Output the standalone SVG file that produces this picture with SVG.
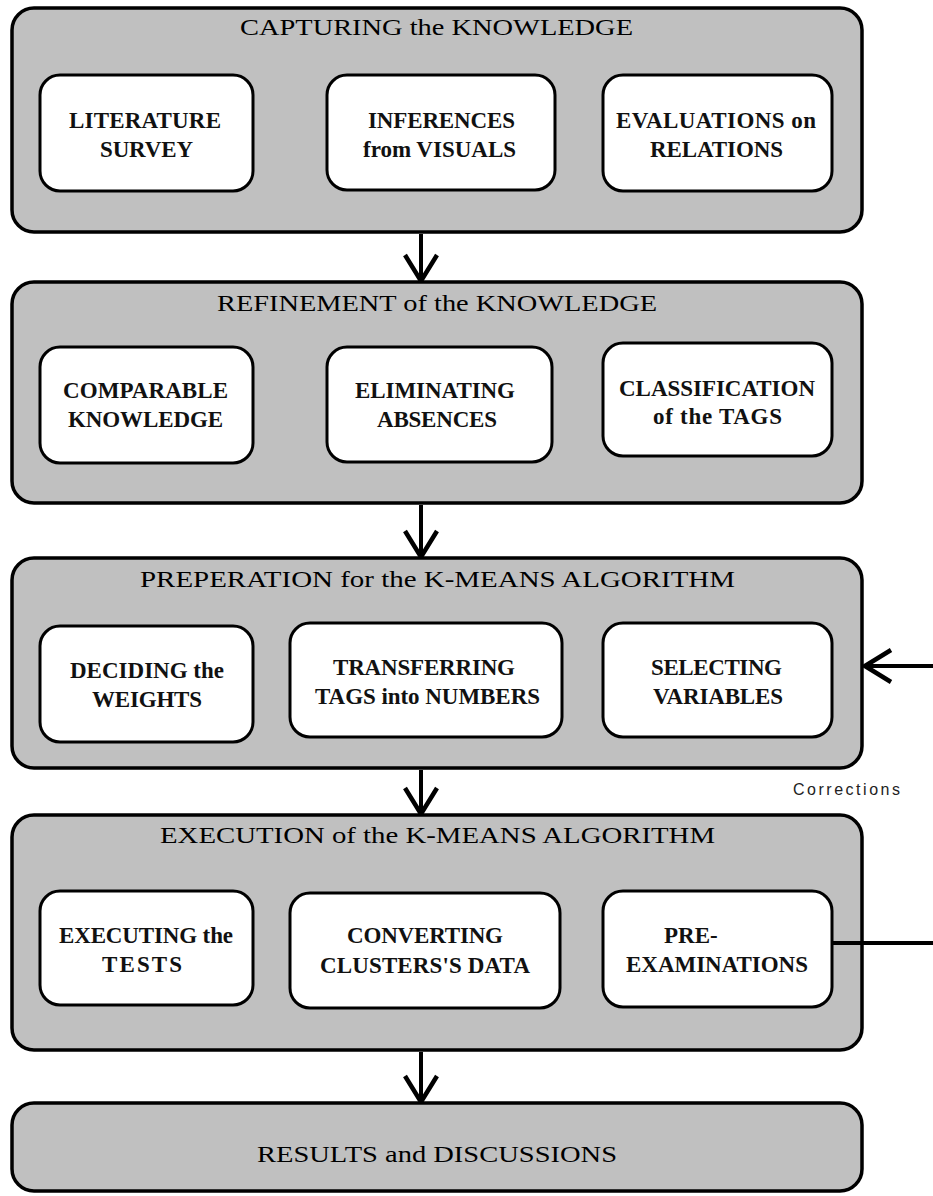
<svg xmlns="http://www.w3.org/2000/svg" width="933" height="1196" viewBox="0 0 933 1196">
<style>
.panel{fill:#c0c0c0;stroke:#000;stroke-width:3.5}
.box{fill:#fff;stroke:#000;stroke-width:3}
.title{font-family:"Liberation Serif",serif;font-size:23px;fill:#000;text-anchor:middle}
.lbl{font-family:"Liberation Serif",serif;font-size:23px;font-weight:bold;fill:#111;text-anchor:middle}
.conn{stroke:#000;stroke-width:4;fill:none}
.note{font-family:"Liberation Sans",sans-serif;font-size:16px;fill:#222}
</style>
<defs>
<marker id="ah" viewBox="0 0 30 36" refX="28" refY="18" markerWidth="30" markerHeight="36" markerUnits="userSpaceOnUse" orient="auto">
<path d="M2,2 L28,18 L2,34" fill="none" stroke="#000" stroke-width="4.5"/>
</marker>
</defs>
<rect width="933" height="1196" fill="#fff"/>

<g id="panel-capturing">
<rect class="panel" x="12" y="8" width="850" height="224" rx="22"/>
<text class="title" x="436.5" y="35" textLength="393" lengthAdjust="spacingAndGlyphs">CAPTURING the KNOWLEDGE</text>
</g>
<g id="literature-survey">
<rect class="box" x="40" y="75" width="213" height="116" rx="20"/>
<text class="lbl" x="145" y="128" textLength="152" lengthAdjust="spacing">LITERATURE</text>
<text class="lbl" x="146.5" y="157" textLength="93" lengthAdjust="spacing">SURVEY</text>
</g>
<g id="inferences">
<rect class="box" x="327" y="75" width="228" height="115" rx="20"/>
<text class="lbl" x="441.5" y="128" textLength="147" lengthAdjust="spacing">INFERENCES</text>
<text class="lbl" x="439.5" y="157" textLength="153" lengthAdjust="spacing">from VISUALS</text>
</g>
<g id="evaluations">
<rect class="box" x="603" y="75" width="229" height="116" rx="20"/>
<text class="lbl" x="716" y="128" textLength="200" lengthAdjust="spacing">EVALUATIONS on</text>
<text class="lbl" x="716.5" y="157" textLength="133" lengthAdjust="spacing">RELATIONS</text>
</g>

<g id="panel-refinement">
<rect class="panel" x="12" y="282" width="850" height="221" rx="22"/>
<text class="title" x="437" y="311" textLength="440" lengthAdjust="spacingAndGlyphs">REFINEMENT of the KNOWLEDGE</text>
</g>
<g id="comparable">
<rect class="box" x="40" y="347" width="213" height="116" rx="20"/>
<text class="lbl" x="145.5" y="398" textLength="165" lengthAdjust="spacing">COMPARABLE</text>
<text class="lbl" x="145.5" y="427" textLength="155" lengthAdjust="spacing">KNOWLEDGE</text>
</g>
<g id="eliminating">
<rect class="box" x="327" y="347" width="225" height="115" rx="20"/>
<text class="lbl" x="435" y="398" textLength="160" lengthAdjust="spacing">ELIMINATING</text>
<text class="lbl" x="437" y="427" textLength="120" lengthAdjust="spacing">ABSENCES</text>
</g>
<g id="classification">
<rect class="box" x="603" y="343" width="229" height="113" rx="20"/>
<text class="lbl" x="717" y="396" textLength="196" lengthAdjust="spacing">CLASSIFICATION</text>
<text class="lbl" x="717.5" y="424" textLength="129" lengthAdjust="spacing">of  the TAGS</text>
</g>

<g id="panel-preperation">
<rect class="panel" x="12" y="558" width="850" height="210" rx="22"/>
<text class="title" x="437.5" y="587" textLength="595" lengthAdjust="spacingAndGlyphs">PREPERATION for the K-MEANS ALGORITHM</text>
</g>
<g id="deciding">
<rect class="box" x="40" y="626" width="213" height="116" rx="20"/>
<text class="lbl" x="147" y="678" textLength="154" lengthAdjust="spacing">DECIDING the</text>
<text class="lbl" x="147" y="707" textLength="110" lengthAdjust="spacing">WEIGHTS</text>
</g>
<g id="transferring">
<rect class="box" x="290" y="623" width="272" height="114" rx="20"/>
<text class="lbl" x="424" y="675" textLength="182" lengthAdjust="spacing">TRANSFERRING</text>
<text class="lbl" x="427.5" y="704" textLength="225" lengthAdjust="spacing">TAGS into NUMBERS</text>
</g>
<g id="selecting">
<rect class="box" x="603" y="623" width="229" height="114" rx="20"/>
<text class="lbl" x="716.5" y="675" textLength="131" lengthAdjust="spacing">SELECTING</text>
<text class="lbl" x="718" y="704" textLength="130" lengthAdjust="spacing">VARIABLES</text>
</g>

<g id="panel-execution">
<rect class="panel" x="12" y="815" width="850" height="235" rx="22"/>
<text class="title" x="437.5" y="843" textLength="555" lengthAdjust="spacingAndGlyphs">EXECUTION of  the K-MEANS ALGORITHM</text>
</g>
<g id="executing">
<rect class="box" x="40" y="891" width="213" height="114" rx="20"/>
<text class="lbl" x="146" y="943" textLength="174" lengthAdjust="spacing">EXECUTING the</text>
<text class="lbl" x="142" y="972" textLength="80" lengthAdjust="spacing">TESTS</text>
</g>
<g id="converting">
<rect class="box" x="290" y="893" width="270" height="115" rx="20"/>
<text class="lbl" x="425" y="943" textLength="156" lengthAdjust="spacing">CONVERTING</text>
<text class="lbl" x="425" y="973" textLength="210" lengthAdjust="spacing">CLUSTERS'S DATA</text>
</g>
<g id="pre-examinations">
<rect class="box" x="603" y="891" width="229" height="116" rx="20"/>
<text class="lbl" x="664" y="943" style="text-anchor:start">PRE-</text>
<text class="lbl" x="717" y="972" textLength="182" lengthAdjust="spacing">EXAMINATIONS</text>
</g>

<g id="results">
<rect class="panel" x="12" y="1103" width="850" height="88" rx="22"/>
<text class="title" x="437" y="1162" font-size="24" textLength="360" lengthAdjust="spacingAndGlyphs">RESULTS and DISCUSSIONS</text>
</g>

<g id="connectors">
<line class="conn" x1="421" y1="234" x2="421" y2="281" marker-end="url(#ah)"/>
<line class="conn" x1="421" y1="505" x2="421" y2="557" marker-end="url(#ah)"/>
<line class="conn" x1="421" y1="770" x2="421" y2="814" marker-end="url(#ah)"/>
<line class="conn" x1="421" y1="1052" x2="421" y2="1102" marker-end="url(#ah)"/>
<line class="conn" x1="832" y1="943" x2="933" y2="943"/>
<line class="conn" x1="933" y1="666" x2="865" y2="666" marker-end="url(#ah)"/>
<text class="note" x="793" y="795" textLength="107" lengthAdjust="spacing">Corrections</text>
</g>
</svg>
